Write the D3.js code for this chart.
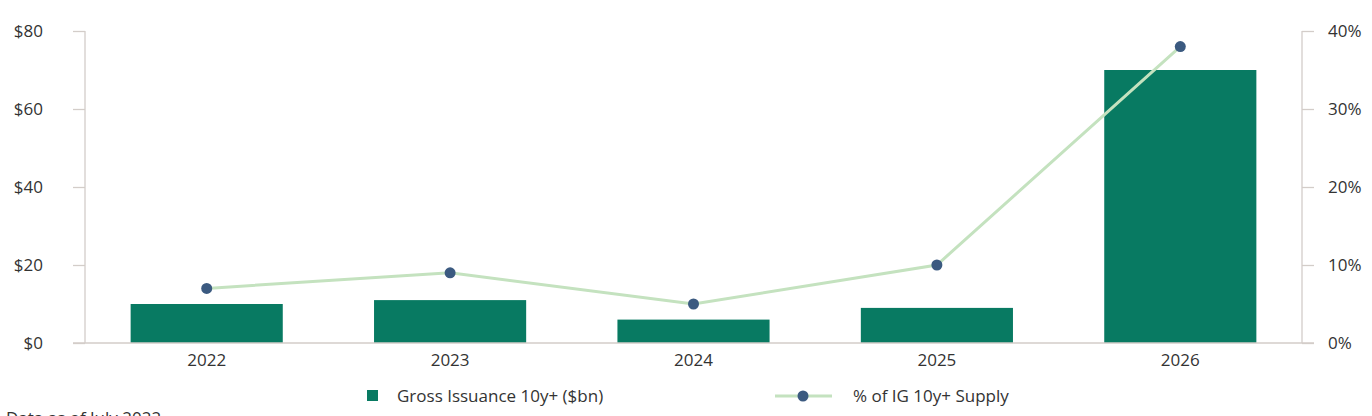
<!DOCTYPE html>
<html>
<head>
<meta charset="utf-8">
<script src="https://cdn.jsdelivr.net/npm/d3@7"></script>
<style>
  body { margin: 0; background: #fff; overflow: hidden; }
  svg text { font-family: "Open Sans", "Noto Sans", sans-serif; fill: #333; }
</style>
</head>
<body>
<script>
// chart data
var years = ["2022", "2023", "2024", "2025", "2026"];
var issuance = [10, 11, 6, 9, 70];          // Gross Issuance 10y+ ($bn)
var share = [7, 9, 5, 10, 38];               // % of IG 10y+ Supply
var leftTicks = [0, 20, 40, 60, 80];
var rightTicks = [0, 10, 20, 30, 40];

var w = 1372, h = 416;
var pLeft = 85, pRight = 1302, pTop = 31, pBottom = 343;
var axisColor = "#d3cdc9";
var fs = 17;

var svg = d3.select("body").append("svg")
    .attr("width", w)
    .attr("height", h)
    .style("display", "block");

var x = d3.scaleBand().domain(years).range([pLeft, pRight]).paddingInner(0.375).paddingOuter(0.1875);
var yL = d3.scaleLinear().domain([0, 80]).range([pBottom, pTop]);
var yR = d3.scaleLinear().domain([0, 40]).range([pBottom, pTop]);

// bars
svg.selectAll("rect.bar")
    .data(issuance)
    .enter()
    .append("rect")
    .attr("class", "bar")
    .attr("x", function(d, i) { return x(years[i]); })
    .attr("y", function(d) { return yL(d); })
    .attr("width", x.bandwidth())
    .attr("height", function(d) { return pBottom - yL(d); })
    .attr("fill", "#087a62");

// left axis
var gL = svg.append("g").attr("transform", "translate(" + pLeft + ",0)")
    .call(d3.axisLeft(yL).tickValues(leftTicks).tickSize(12).tickPadding(30)
        .tickFormat(function(d) { return "$" + d; }));
// right axis
var gR = svg.append("g").attr("transform", "translate(" + pRight + ",0)")
    .call(d3.axisRight(yR).tickValues(rightTicks).tickSize(12).tickPadding(14)
        .tickFormat(function(d) { return d + "%"; }));

[gL, gR].forEach(function(g) {
    g.select(".domain").remove();
    g.selectAll("line").attr("stroke", axisColor).attr("stroke-width", 1.3);
    g.selectAll("text").attr("font-size", fs).attr("fill", "#333")
        .style("font-family", "'Open Sans', sans-serif");
});
svg.append("line").attr("x1", pLeft).attr("x2", pLeft).attr("y1", pTop).attr("y2", pBottom)
    .attr("stroke", axisColor).attr("stroke-width", 1.3);
svg.append("line").attr("x1", pRight).attr("x2", pRight).attr("y1", pTop).attr("y2", pBottom)
    .attr("stroke", axisColor).attr("stroke-width", 1.3);

// x axis
var gX = svg.append("g").attr("transform", "translate(0," + pBottom + ")")
    .call(d3.axisBottom(x).tickSize(0).tickPadding(11));
gX.select(".domain").remove();
gX.selectAll("text").attr("font-size", fs).attr("fill", "#333")
    .style("font-family", "'Open Sans', sans-serif");
svg.append("line").attr("x1", pLeft - 12).attr("x2", pRight + 12).attr("y1", pBottom).attr("y2", pBottom)
    .attr("stroke", axisColor).attr("stroke-width", 1.3);

// line series
var line = d3.line()
    .x(function(d, i) { return x(years[i]) + x.bandwidth() / 2; })
    .y(function(d) { return yR(d); });

svg.append("path")
    .datum(share)
    .attr("d", line)
    .attr("fill", "none")
    .attr("stroke", "#c4e2bf")
    .attr("stroke-width", 3);

svg.selectAll("circle.pt")
    .data(share)
    .enter()
    .append("circle")
    .attr("class", "pt")
    .attr("cx", function(d, i) { return x(years[i]) + x.bandwidth() / 2; })
    .attr("cy", function(d) { return yR(d); })
    .attr("r", 5.5)
    .attr("fill", "#3b5a80");

// legend
var lg = svg.append("g");
lg.append("rect").attr("x", 367).attr("y", 390).attr("width", 11).attr("height", 11).attr("fill", "#087a62");
lg.append("text").attr("x", 397).attr("y", 396).attr("dy", "0.35em").attr("font-size", fs)
    .text("Gross Issuance 10y+ ($bn)");
lg.append("line").attr("x1", 775).attr("x2", 832).attr("y1", 396).attr("y2", 396)
    .attr("stroke", "#c4e2bf").attr("stroke-width", 3);
lg.append("circle").attr("cx", 803).attr("cy", 396).attr("r", 5.5).attr("fill", "#3b5a80");
lg.append("text").attr("x", 853).attr("y", 396).attr("dy", "0.35em").attr("font-size", fs)
    .text("% of IG 10y+ Supply");

// footnote (cut off at the bottom edge)
svg.append("text").attr("x", 6).attr("y", 424).attr("font-size", fs)
    .text("Data as of July 2022");
</script>
</body>
</html>
